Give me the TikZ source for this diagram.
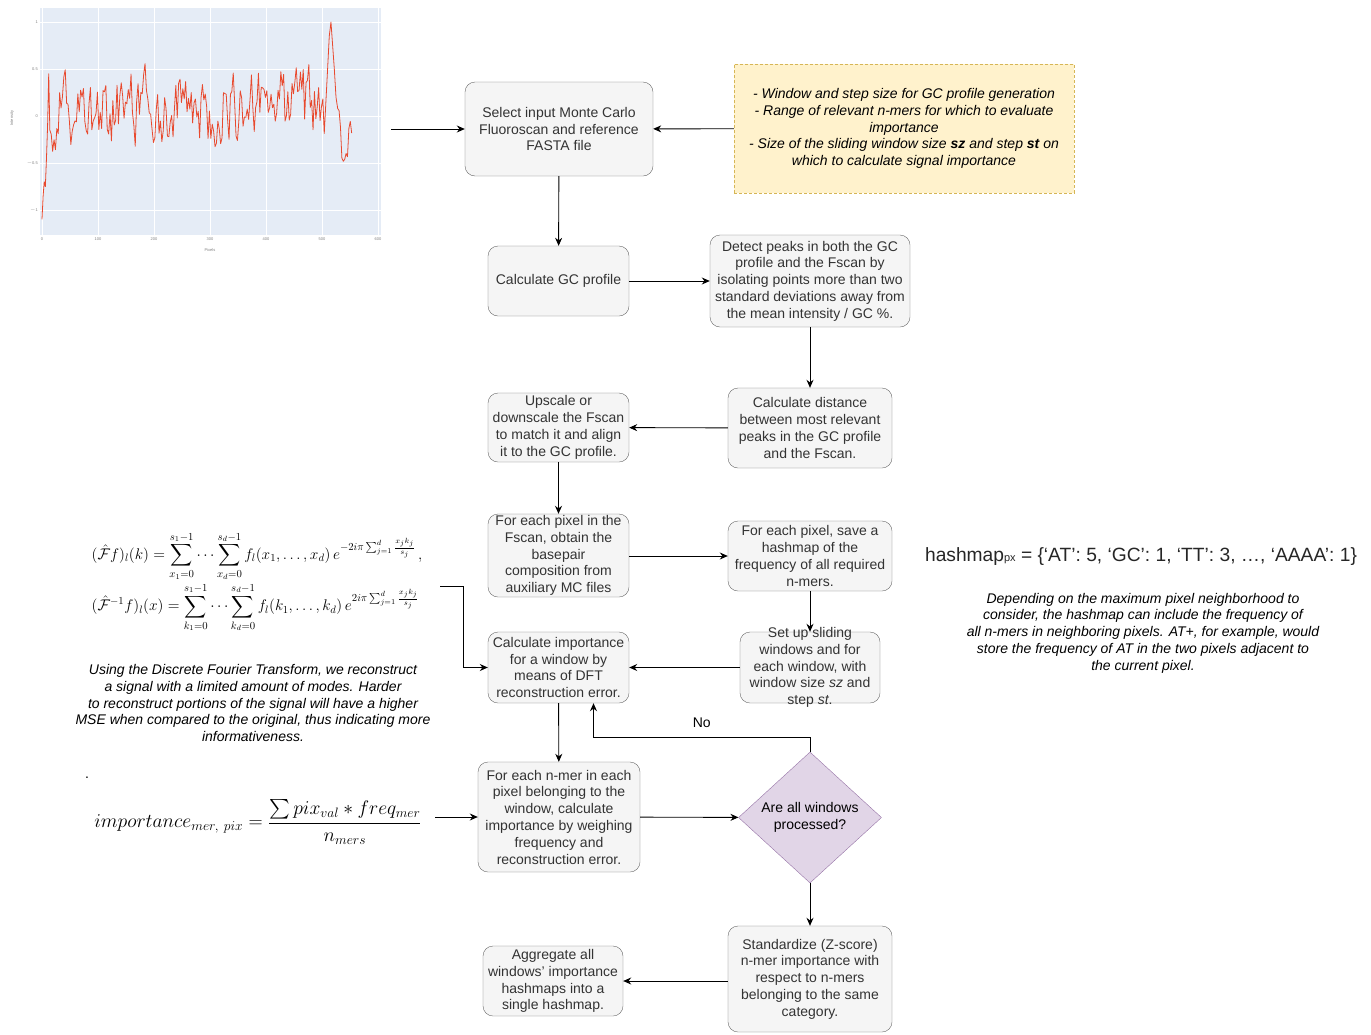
\documentclass[tikz,border=0pt]{standalone}
\usepackage{amsmath, amssymb}
\usepackage{graphicx}
\usepackage{fontspec}
\setmainfont{Liberation Sans}
\usepackage{xcolor}
\usepackage{tikz}
\usetikzlibrary{positioning, shapes.geometric, arrows.meta}
\definecolor{boxfill}{HTML}{F5F5F5}
\definecolor{boxdraw}{HTML}{666666}
\definecolor{boxtext}{HTML}{333333}
\definecolor{notefill}{HTML}{FFF2CC}
\definecolor{notedraw}{HTML}{D6B656}
\definecolor{decfill}{HTML}{E1D5E7}
\definecolor{decdraw}{HTML}{9673A6}
\definecolor{plotbg}{HTML}{E5ECF6}
\definecolor{sigred}{HTML}{E8492E}
\tikzset{every node/.style={font=\fontsize{14}{16.8}\selectfont}}

\begin{document}
\begin{tikzpicture}[x=1pt, y=-1pt,
  box/.style={draw=boxdraw, fill=boxfill, text=boxtext, rectangle, rounded corners=10pt, align=center, inner xsep=1pt, inner ysep=1pt},
  note/.style={draw=notedraw, fill=notefill, dash pattern=on 3pt off 2pt, align=center, font=\fontsize{14}{16.8}\selectfont\itshape},
  decision/.style={diamond, draw=decdraw, fill=decfill, align=center, inner sep=0pt, minimum width=143pt, minimum height=131pt},
  arr/.style={-{Stealth[length=8pt, width=7pt]}, line width=0.9pt},
  tick/.style={font=\fontsize{4}{4}\selectfont, text=gray, inner sep=1pt},
  caption/.style={align=center, font=\fontsize{14}{16.8}\selectfont\itshape}]

\useasboundingbox (0,0) rectangle (1371,1034);

% signal plot
\fill[plotbg] (40,8) rectangle (381,235);
\foreach \gx in {42,98,...,378} \draw[white, line width=0.8pt] (\gx,8) -- (\gx,235);
\foreach \gy in {22,69,...,210} \draw[white, line width=0.8pt] (40,\gy) -- (381,\gy);
\foreach \lab [count=\k from 0] in {0,100,200,300,400,500,600}
  \node[tick] (xt\k) at (42+56*\k,239) {\lab};
\foreach \lab [count=\k from 0] in {1,0.5,0,$-$0.5,$-$1}
  \node[tick, anchor=east] (yt\k) at (39,22+47*\k) {\lab};
\node[tick] (xlab) at (210,250) {Pixels};
\node[tick, rotate=90] (ylab) at (12,118) {Intensity};
\pgfmathsetseed{23}
\xdef\sv{0.3}
\xdef\sigmain{}
\foreach \i in {14,16.5,...,506} {
  \pgfmathsetmacro\nv{0.45*\sv+0.05+0.34*rand}
  \xdef\sv{\nv}
  \xdef\sigmain{\sigmain -- (\i,\nv)}
}
\xdef\sigtail{}
\foreach \i in {528,530.5,...,555} {
  \pgfmathsetmacro\nv{0.4*\sv-0.08+0.34*rand}
  \xdef\sv{\nv}
  \xdef\sigtail{\sigtail -- (\i,\nv)}
}
\begin{scope}[shift={(42,116)}, x=0.56pt, y=94pt]
  \draw[sigred, line width=0.8pt, line join=round]
    (0,-1.1) -- (2,-0.85) -- (4,-0.7) -- (6,-0.75) -- (8,-0.45) -- (10,-0.1) -- (12,0.45)
    \sigmain
    -- (510,0.5) -- (513,0.85) -- (516,1.0) -- (519,0.75) -- (522,0.5) -- (525,0.2)
    \sigtail;
\end{scope}
\coordinate (plotout) at (391,129);

% main flow
\node[box, minimum width=188pt, minimum height=94pt] (sel) at (559,129) {Select input Monte Carlo\\Fluoroscan and reference\\FASTA file};
\node[note, minimum width=340pt, minimum height=129pt] (cfg) at (904,128.5) {- Window and step size for GC profile generation\\- Range of relevant n-mers for which to evaluate\\importance\\- Size of the sliding window size \textbf{sz} and step \textbf{st} on\\which to calculate signal importance};
\node[box, minimum width=141pt, minimum height=70pt] (gc) at (558.5,281) {Calculate GC profile};
\node[box, minimum width=200pt, minimum height=92pt] (peaks) at (810,281) {Detect peaks in both the GC\\profile and the Fscan by\\isolating points more than two\\standard deviations away from\\the mean intensity / GC \%.};
\node[box, minimum width=164pt, minimum height=80pt] (dist) at (810,428) {Calculate distance\\between most relevant\\peaks in the GC profile\\and the Fscan.};
\node[box, minimum width=141pt, minimum height=69pt] (ups) at (558.5,427.5) {Upscale or\\downscale the Fscan\\to match it and align\\it to the GC profile.};
\node[box, minimum width=141pt, minimum height=83pt] (pix) at (558.5,555.5) {For each pixel in the\\Fscan, obtain the\\basepair\\composition from\\auxiliary MC files};
\node[box, minimum width=164pt, minimum height=70pt] (hash) at (810,556) {For each pixel, save a\\hashmap of the\\frequency of all required\\n-mers.};
\node[box, minimum width=140pt, minimum height=71pt, inner ysep=-5pt] (setup) at (810,667.5) {Set up sliding\\windows and for\\each window, with\\window size \textit{sz} and\\step \textit{st}.};
\node[box, minimum width=141pt, minimum height=71pt, inner ysep=0pt] (imp) at (558.5,667.5) {Calculate importance\\for a window by\\means of DFT\\reconstruction error.};
\node[box, minimum width=162pt, minimum height=110pt] (mer) at (559,817) {For each n-mer in each\\pixel belonging to the\\window, calculate\\importance by weighing\\frequency and\\reconstruction error.};
\node[decision] (done) at (810,817.5) {Are all windows\\processed?};
\node[box, minimum width=164pt, minimum height=106pt] (std) at (810,979) {Standardize (Z-score)\\n-mer importance with\\respect to n-mers\\belonging to the same\\category.};
\node[box, minimum width=140pt, minimum height=70pt] (agg) at (553,981) {Aggregate all\\windows' importance\\hashmaps into a\\single hashmap.};

% side notes
\node[font=\fontsize{14.4}{17}\selectfont] (fft) at (257,582) {\scalebox{1.07}{$\begin{aligned}
  &(\hat{\mathcal{F}}f)_l(k)=\sum_{x_1=0}^{s_1-1}\cdots\sum_{x_d=0}^{s_d-1} f_l(x_1,\dots,x_d)\,e^{-2i\pi\sum_{j=1}^{d}\frac{x_jk_j}{s_j}}\,,\\[-2pt]
  &(\hat{\mathcal{F}}^{-1}f)_l(x)=\sum_{k_1=0}^{s_1-1}\cdots\sum_{k_d=0}^{s_d-1} f_l(k_1,\dots,k_d)\,e^{2i\pi\sum_{j=1}^{d}\frac{x_jk_j}{s_j}}
  \end{aligned}$}};
\coordinate (fftout) at (440,586);
\node[caption] (fftnote) at (253,703) {Using the Discrete Fourier Transform, we reconstruct\\a signal with a limited amount of modes. Harder\\to reconstruct portions of the signal will have a higher\\MSE when compared to the original, thus indicating more\\informativeness.};
\node[inner sep=0pt] (dot) at (87,778) {.};
\node[font=\fontsize{20.74}{24}\selectfont] (impf) at (258,822) {\scalebox{0.945}{$\displaystyle importance_{mer,\ pix}=\frac{\sum pix_{val} * freq_{mer}}{n_{mers}}$}};
\coordinate (impout) at (435,817);
\node[font=\fontsize{19.2}{22}\selectfont, text=black!85] (hmap) at (1141,557) {hashmap{\fontsize{11}{13}\selectfont px} = \{‘AT’: 5, ‘GC’: 1, ‘TT’: 3, …, ‘AAAA’: 1\}};
\node[caption] (hmapnote) at (1143,633) {Depending on the maximum pixel neighborhood to\\consider, the hashmap can include the frequency of\\all n-mers in neighboring pixels. AT+, for example, would\\store the frequency of AT in the two pixels adjacent to\\the current pixel.};

% connectors
\draw[arr] (plotout) -- (sel);
\draw[arr] (cfg) -- (sel);
\draw[arr] (sel) -- (gc);
\draw[arr] (gc) -- (peaks);
\draw[arr] (peaks) -- (dist);
\draw[arr] (dist) -- (ups);
\draw[arr] (ups) -- (pix);
\draw[arr] (pix.east |- hash) -- (hash);
\draw[arr] (hash) -- (setup);
\draw[arr] (setup) -- (imp);
\draw[arr] (fftout) -- ++(23,0) |- (imp.west);
\draw[arr] (imp) -- (mer);
\draw[arr] (impout) -- (mer.west |- impout);
\draw[arr] (mer) -- (done);
\draw[arr] (done.north) -- ++(0,-14) -| ([xshift=35pt]imp.south) node[pos=0.25, above=6pt, text=black] (no) {No};
\draw[arr] (done) -- (std);
\draw[arr] (std.west |- agg) -- (agg);

\end{tikzpicture}
\end{document}
